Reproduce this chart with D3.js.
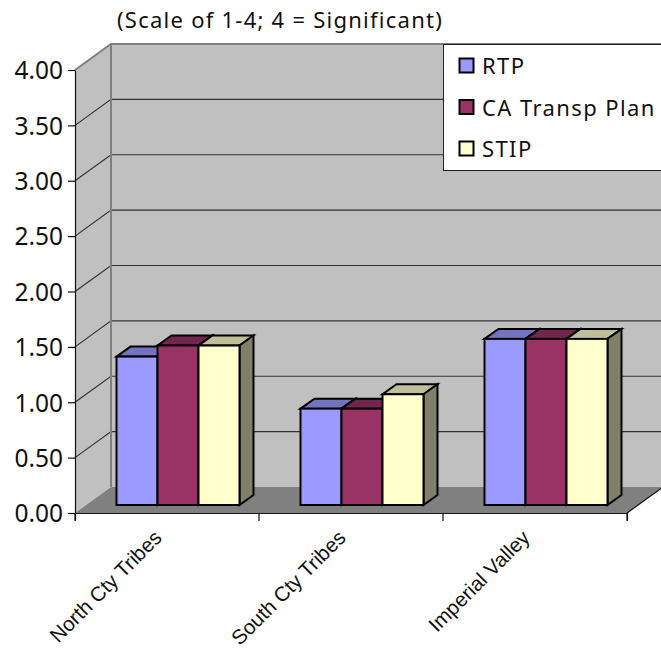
<!DOCTYPE html>
<html>
<head>
<meta charset="utf-8">
<script src="https://cdn.jsdelivr.net/npm/d3@7/dist/d3.min.js"></script>
<style>
html,body{margin:0;padding:0;background:#fff;overflow:hidden}
svg{display:block}
text{fill:#111}
</style>
</head>
<body>
<svg id="chart" width="661" height="652"></svg>
<script>
// Chart values
const categories = ["North Cty Tribes", "South Cty Tribes", "Imperial Valley"];
const seriesNames = ["RTP", "CA Transp Plan", "STIP"];
const rtpValues = [1.34, 0.87, 1.5];
const caTranspValues = [1.44, 0.87, 1.5];
const stipValues = [1.44, 1.0, 1.5];
const yTicks = [0, 0.5, 1, 1.5, 2, 2.5, 3, 3.5, 4];
const titleText = "(Scale of 1-4; 4 = Significant)";

const seriesValues = [rtpValues, caTranspValues, stipValues];
const faceColors = ["#9999ff", "#993366", "#ffffcc"];
const topColors = ["#7373bf", "#73264d", "#bfbf99"];
const sideColors = ["#7373bf", "#73264d", "#80806a"];

const uiFont = "'Noto Sans','Open Sans',sans-serif";
const axisFont = "'Liberation Sans',Arial,sans-serif";

const svg = d3.select("#chart");

// Frame of the 3D box: the front plane plus a fixed oblique depth offset
const left = 75, right = 627, baseY = 513, topY = 70;
const depthX = 36, depthY = -26;
const barDepthX = 14, barDepthY = -10;
const gapDepthX = 11, gapDepthY = -8;

const y = d3.scaleLinear().domain([0, 4]).range([baseY, topY]);
const x = d3.scaleBand().domain(categories).range([left, right]);
const inner = d3.scaleBand().domain(d3.range(seriesNames.length))
  .range([0, x.bandwidth()]).paddingInner(0).paddingOuter(0.744);

const poly = (pts, fill, stroke, sw) => svg.append("polygon")
  .attr("points", pts.map(p => p.join(",")).join(" "))
  .attr("fill", fill).attr("stroke", stroke || "none").attr("stroke-width", sw || 0)
  .attr("stroke-linejoin", "miter");

const backLeft = left + depthX, backRight = right + depthX;

// Walls and floor
poly([[left, y(4)], [backLeft, y(4) + depthY], [backLeft, baseY + depthY], [left, baseY]], "#c0c0c0");
poly([[backLeft, y(4) + depthY], [backRight, y(4) + depthY], [backRight, baseY + depthY], [backLeft, baseY + depthY]], "#c0c0c0");
poly([[left, baseY], [backLeft, baseY + depthY], [backRight, baseY + depthY], [right, baseY]], "#808080");

// Gridlines running along the side wall and across the back wall
const grid = svg.append("g");
yTicks.filter(t => t > 0 && t < 4).forEach(t => {
  grid.append("path")
    .attr("d", `M${left},${y(t)}L${backLeft},${y(t) + depthY}L${backRight},${y(t) + depthY}`)
    .attr("fill", "none").attr("stroke", "#333").attr("stroke-width", 1.2);
});

// Wall outline
svg.append("path")
  .attr("d", `M${left},${y(4)}L${backLeft},${y(4) + depthY}L${backRight},${y(4) + depthY}M${backLeft},${y(4) + depthY}L${backLeft},${baseY + depthY}`)
  .attr("fill", "none").attr("stroke", "#808080").attr("stroke-width", 2);
svg.append("path")
  .attr("d", `M${right},${baseY}L${backRight},${baseY + depthY}`)
  .attr("fill", "none").attr("stroke", "#111").attr("stroke-width", 1.2);

// Bars, each a cuboid standing a little in from the front of the floor
const barBase = baseY + gapDepthY;
categories.forEach((cat, ci) => {
  const order = seriesNames.map((_, si) => si);
  order.forEach(si => {
    const v = seriesValues[si][ci];
    const x0 = x(cat) + inner(si) + gapDepthX;
    const x1 = x0 + inner.bandwidth();
    const yt = barBase - (baseY - y(v));
    const dx = barDepthX, dy = barDepthY;
    const edge = "#000";
    poly([[x0, yt], [x0 + dx, yt + dy], [x1 + dx, yt + dy], [x1, yt]], topColors[si], edge, 2);
    poly([[x1, yt], [x1 + dx, yt + dy], [x1 + dx, barBase + dy], [x1, barBase]], sideColors[si], edge, 2);
  });
  // Front faces go on top so neighbouring bars keep a clean seam
  order.forEach(si => {
    const v = seriesValues[si][ci];
    const x0 = x(cat) + inner(si) + gapDepthX;
    const yt = barBase - (baseY - y(v));
    svg.append("rect")
      .attr("x", x0).attr("y", yt)
      .attr("width", inner.bandwidth()).attr("height", barBase - yt)
      .attr("fill", faceColors[si]).attr("stroke", "#000").attr("stroke-width", 2);
  });
});

// Value axis
const yAxis = d3.axisLeft(y).tickValues(yTicks).tickFormat(d3.format(".2f")).tickSize(7).tickSizeOuter(0);
const yG = svg.append("g").attr("transform", `translate(${left},0)`).call(yAxis);
yG.select(".domain").attr("stroke", "#111").attr("stroke-width", 1.2);
yG.selectAll(".tick line").attr("stroke", "#111").attr("stroke-width", 1.2);
yG.selectAll(".tick text")
  .attr("x", -12).attr("dy", "0.36em")
  .attr("font-family", uiFont).attr("font-size", 24.5).style("fill", "#111");

// Category axis with slanted labels
const xAxis = d3.axisBottom(x).tickSize(8).tickSizeOuter(8);
const xG = svg.append("g").attr("transform", `translate(0,${baseY})`).call(xAxis);
xG.select(".domain").attr("stroke", "#111").attr("stroke-width", 1.2);
xG.selectAll(".tick line").attr("x1", x.bandwidth() / 2).attr("x2", x.bandwidth() / 2).attr("stroke", "#111").attr("stroke-width", 1.2);
xG.append("line").attr("x1", left).attr("x2", left).attr("y1", 0).attr("y2", 8).attr("stroke", "#111").attr("stroke-width", 1.2);
xG.selectAll(".tick text")
  .attr("font-family", axisFont).attr("font-size", 20.5).style("fill", "#111")
  .attr("text-anchor", "end").attr("dy", null).attr("y", null)
  .attr("transform", "translate(-4,26) rotate(-45)");

// Title
svg.append("text").attr("x", 117).attr("y", 28)
  .attr("font-family", uiFont).attr("font-size", 22).attr("letter-spacing", 1.25).text(titleText);

// Legend
const legend = svg.append("g");
legend.append("rect").attr("x", 443.5).attr("y", 44.5).attr("width", 230).attr("height", 126)
  .attr("fill", "#fff").attr("stroke", "#222").attr("stroke-width", 1);
const legendY = d3.scalePoint().domain(seriesNames).range([65, 148]);
seriesNames.forEach((name, i) => {
  legend.append("rect").attr("x", 459.5).attr("y", legendY(name) - 6.5).attr("width", 14).attr("height", 14)
    .attr("fill", faceColors[i]).attr("stroke", "#000").attr("stroke-width", 2);
  legend.append("text").attr("x", 482).attr("y", legendY(name) + 9)
    .attr("font-family", uiFont).attr("font-size", 22).attr("letter-spacing", 1.4).text(name);
});
</script>
</body>
</html>
